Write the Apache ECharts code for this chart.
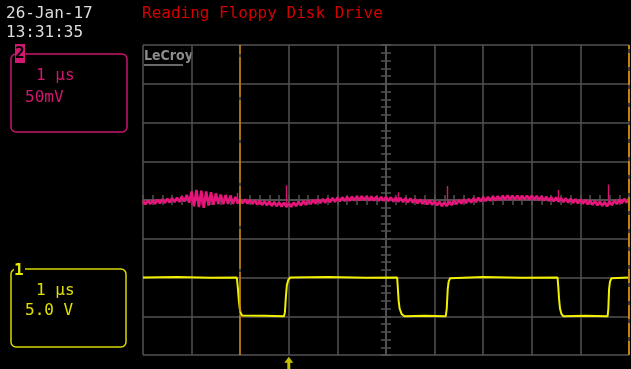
<!DOCTYPE html>
<html><head><meta charset="utf-8">
<script src="https://cdn.jsdelivr.net/npm/echarts@6/dist/echarts.min.js"></script>
<style>html,body{margin:0;padding:0;background:#000;}#c{width:631px;height:369px;}</style>
</head><body><div id="c"></div><script>
// Time axis: microseconds relative to screen centre (1 us/div, 10 divisions)
const timeMin = -5, timeMax = 5;
// Vertical axis in divisions (8 divisions)
const divMin = -4, divMax = 4;

// Channel 2 (pink), 50 mV/div, sampled every 0.05 us from -5 us
const pinkStart = -5, pinkStep = 0.05, pinkMvPerDiv = 50, pinkOffsetDiv = 0;
const pinkMillivolts = [
  -1.0,-5.6,-0.8,-5.0,-0.2,-4.9,0.4,-4.2,0.9,-3.8,
  1.6,-3.2,2.3,-2.6,3.0,-2.4,4.5,-2.0,6.5,-3.5,
  11,-8,13,-9,12,-10,11,-7,10,-6,
  8.5,-5,7,-5.5,6.5,-5,5.5,-5,4,-4.5,
  1.2,-4.2,0.6,-4.7,0.2,-5.1,-0.4,-5.9,-1.0,-6.4,
  -1.6,-6.9,-2.0,-7.4,-2.6,-8.0,-3.0,-8.4,-3.4,-9.0,
  -4.0,-8.7,-3.2,-7.8,-2.2,-7.0,-1.4,-6.2,-0.6,-5.3,
  0.2,-4.6,0.8,-4.0,1.5,-3.5,2.0,-2.8,2.6,-2.3,
  3.1,-1.8,3.5,-1.5,3.9,-1.1,4.2,-0.8,4.6,-0.5,
  4.9,-0.3,4.7,-0.6,4.5,-0.8,4.3,-1.0,4.1,-1.2,
  3.9,-1.4,3.5,-1.9,3.1,-2.2,2.8,-2.6,2.4,-3.0,
  2.0,-3.5,1.2,-4.2,0.7,-4.9,0.0,-5.5,-0.6,-6.2,
  -1.3,-6.9,-2.2,-7.8,-2.9,-7.9,-2.0,-6.5,-0.6,-5.4,
  0.1,-4.7,0.8,-4.0,1.5,-3.3,2.2,-2.6,2.9,-1.9,
  3.6,-1.4,4.0,-0.9,4.5,-0.5,4.9,-0.1,5.4,0.4,
  5.8,0.6,5.7,0.5,5.7,0.5,5.6,0.5,5.7,0.6,
  5.7,0.3,5.2,-0.2,4.7,-0.7,4.2,-1.2,3.7,-1.7,
  3.2,-2.2,2.7,-2.8,2.2,-3.3,1.7,-3.8,1.2,-4.3,
  0.7,-4.8,0.0,-5.5,-0.6,-6.2,-1.3,-6.8,-1.9,-7.5,
  -2.6,-8.1,-2.2,-6.6,-0.7,-5.2,0.6,-4.1,1.6,-3.4,2.0
];
// Glitches on channel 2: [time us, base mV, peak mV]
const pinkSpikes = [[-3.07,-2,9],[-2.06,-7,19],[0.25,0,10],[1.25,-6,18],[3.54,0,13],[4.57,-6,20]];

// Channel 1 (yellow), 5 V/div, ground at -3 div
const yellowVPerDiv = 5, yellowOffsetDiv = -3;
const yellowTimes = [-5.00,-4.30,-3.60,-3.07,-3.05,-3.03,-3.01,-2.99,-2.96,-2.92,-2.50,-2.10,-2.08,-2.06,-2.04,-2.01,-1.97,-1.20,-0.40,0.23,0.245,0.26,0.28,0.32,0.38,0.80,1.23,1.25,1.27,1.29,1.32,1.36,2.00,2.80,3.53,3.545,3.56,3.58,3.61,3.65,4.10,4.56,4.575,4.59,4.61,4.64,4.68,5.00];
const yellowVolts = [5.0,5.05,4.98,5.0,3.8,2.2,1.0,0.4,0.1,0.0,0.05,0.0,0.5,2.5,4.0,4.7,5.0,5.05,4.97,5.0,3.5,2.0,1.0,0.3,0.0,0.05,0.0,1.0,3.5,4.5,4.9,5.0,5.05,4.97,5.0,3.8,2.3,1.0,0.3,0.0,0.05,0.0,1.0,3.5,4.5,4.9,5.0,5.0];

const cursorTimes = [-3.0, 5.0];
const triggerTime = -2.0;

const pinkData = pinkMillivolts.map((mv, i) => [pinkStart + i * pinkStep, mv / pinkMvPerDiv + pinkOffsetDiv]);
const spikeData = pinkSpikes.map(s => ({coords: [[s[0], s[1] / pinkMvPerDiv + pinkOffsetDiv], [s[0], s[2] / pinkMvPerDiv + pinkOffsetDiv]]}));
const yellowData = yellowTimes.map((t, i) => [t, yellowVolts[i] / yellowVPerDiv + yellowOffsetDiv]);

const gridColor = '#525252';
const mono = '"DejaVu Sans Mono", monospace';
function axisCfg(dim, inside, main) {
  const isX = dim === 'x';
  return {
    type: 'value',
    min: isX ? timeMin : divMin,
    max: isX ? timeMax : divMax,
    interval: 1,
    position: isX ? 'bottom' : 'left',
    axisLine: {show: true, onZero: true, lineStyle: {color: gridColor, width: 1.5}},
    axisTick: {show: true, inside: inside, length: 5, lineStyle: {color: gridColor, width: 1.5}},
    minorTick: {show: true, splitNumber: 5, length: 5, lineStyle: {color: gridColor, width: 1.5}},
    axisLabel: {show: false},
    splitLine: {show: main, lineStyle: {color: gridColor, width: 1.5}},
    minorSplitLine: {show: false}
  };
}

const chart = echarts.init(document.getElementById('c'), null, {renderer: 'canvas'});
chart.setOption({
  backgroundColor: '#000',
  animation: false,
  grid: {left: 143, top: 45, width: 486, height: 310, outerBoundsMode: 'none', containLabel: false},
  xAxis: [axisCfg('x', false, true), axisCfg('x', true, false)],
  yAxis: [axisCfg('y', false, true), axisCfg('y', true, false)],
  series: [
    {type: 'line', data: pinkData, showSymbol: false, symbol: 'none', z: 3,
     lineStyle: {color: '#e5157a', width: 2.6}},
    {type: 'lines', coordinateSystem: 'cartesian2d', data: spikeData, z: 3,
     lineStyle: {color: '#d4156f', width: 1.4, opacity: 1}},
    {type: 'line', data: yellowData, showSymbol: false, symbol: 'none', z: 4,
     lineStyle: {color: '#f2f200', width: 2}},
    {type: 'line', data: [], z: 6,
     markLine: {silent: true, symbol: 'none', label: {show: false},
       data: [
         {xAxis: cursorTimes[0], lineStyle: {color: '#c8820a', width: 1.5, type: [40, 3]}},
         {xAxis: cursorTimes[1], lineStyle: {color: '#c8820a', width: 2, type: [14, 4]}}
       ]}},
    {type: 'scatter', data: [[triggerTime, -4.21]], clip: false, z: 7,
     symbol: 'path://M4.5,0 L9,6 L6,6 L6,13 L3,13 L3,6 L0,6 Z', symbolSize: [9, 13],
     itemStyle: {color: '#f2f200'}}
  ],
  graphic: [
    {type: 'text', x: 6, y: 6, style: {text: '26-Jan-17', fill: '#dcdcdc', font: '16px ' + mono}},
    {type: 'text', x: 6, y: 25, style: {text: '13:31:35', fill: '#dcdcdc', font: '16px ' + mono}},
    {type: 'text', x: 142, y: 6, style: {text: 'Reading Floppy Disk Drive', fill: '#d40000', font: '16px ' + mono}},
    {type: 'text', x: 144, y: 49, style: {text: 'LeCroy', fill: '#8c8c8c', font: 'bold 14px "DejaVu Sans Condensed", sans-serif'}},
    {type: 'line', shape: {x1: 144, y1: 65, x2: 183, y2: 65}, style: {stroke: '#8c8c8c', lineWidth: 1.5}},
    // Channel 2 box
    {type: 'rect', shape: {x: 11, y: 54, width: 116, height: 78, r: 5}, style: {fill: 'none', stroke: '#c8146e', lineWidth: 1.5}},
    {type: 'rect', shape: {x: 15, y: 44, width: 10, height: 19}, style: {fill: '#d0186f'}},
    {type: 'text', x: 15, y: 46, style: {text: '2', fill: '#000', font: 'bold 16px ' + mono}},
    {type: 'text', x: 36, y: 68, style: {text: '1 μs', fill: '#d0186f', font: '16px ' + mono}},
    {type: 'text', x: 25, y: 90, style: {text: '50mV', fill: '#d0186f', font: '16px ' + mono}},
    // Channel 1 box
    {type: 'rect', shape: {x: 11, y: 269, width: 115, height: 78, r: 5}, style: {fill: 'none', stroke: '#d8d800', lineWidth: 1.5}},
    {type: 'rect', shape: {x: 14, y: 261, width: 11, height: 17}, style: {fill: '#000'}},
    {type: 'text', x: 14, y: 263, style: {text: '1', fill: '#e8e800', font: 'bold 16px ' + mono}},
    {type: 'text', x: 36, y: 283, style: {text: '1 μs', fill: '#e0e000', font: '16px ' + mono}},
    {type: 'text', x: 25, y: 303, style: {text: '5.0 V', fill: '#e0e000', font: '16px ' + mono}}
  ]
});
</script></body></html>
